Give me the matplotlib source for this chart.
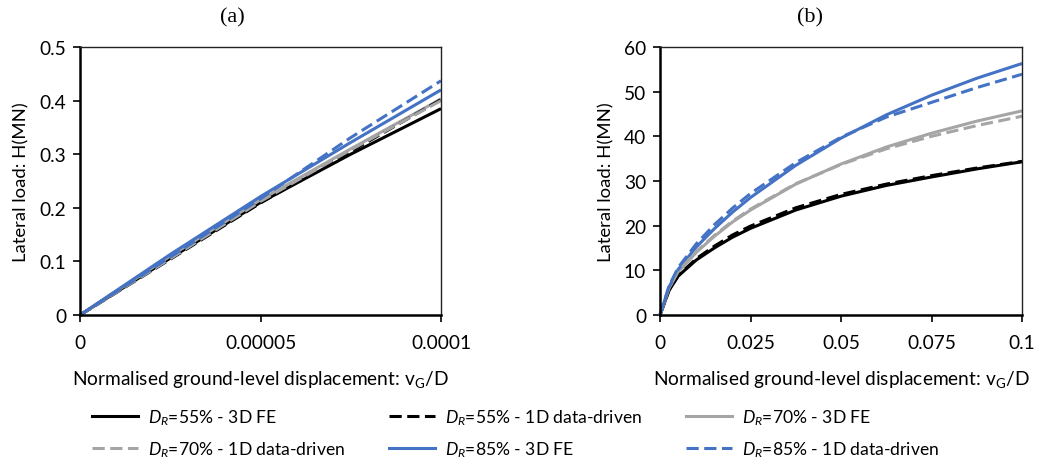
import matplotlib
matplotlib.use("Agg")
import matplotlib.pyplot as plt
from matplotlib.lines import Line2D

plt.rcParams['font.family'] = ['Lato', 'DejaVu Sans']
plt.rcParams['mathtext.fontset'] = 'custom'
plt.rcParams['mathtext.rm'] = 'Lato'
plt.rcParams['mathtext.it'] = 'Lato:italic'

# Panel (a): small-displacement range
xa = [0, 2.5e-5, 5e-5, 7.5e-5, 1e-4]
a_dr55_fe = [0, 0.106, 0.210, 0.300, 0.385]
a_dr55_dd = [0, 0.104, 0.209, 0.305, 0.402]
a_dr70_fe = [0, 0.110, 0.215, 0.310, 0.403]
a_dr70_dd = [0, 0.105, 0.212, 0.308, 0.400]
a_dr85_fe = [0, 0.113, 0.221, 0.322, 0.420]
a_dr85_dd = [0, 0.108, 0.217, 0.331, 0.437]

# Panel (b): full displacement range
xb = [0, 0.0025, 0.005, 0.01, 0.015, 0.02, 0.025, 0.0375, 0.05, 0.0625, 0.075, 0.0875, 0.1]
b_dr55_fe = [0, 5.5, 8.7, 12.3, 15.0, 17.4, 19.4, 23.5, 26.6, 29.0, 30.9, 32.7, 34.3]
b_dr55_dd = [0, 5.6, 8.8, 12.6, 15.4, 17.9, 19.9, 24.0, 27.0, 29.3, 31.2, 32.9, 34.4]
b_dr70_fe = [0, 6.0, 9.6, 14.0, 17.6, 20.8, 23.5, 29.3, 33.8, 37.6, 40.7, 43.4, 45.7]
b_dr70_dd = [0, 6.0, 9.7, 14.2, 17.8, 21.0, 23.7, 29.4, 33.7, 37.2, 40.0, 42.4, 44.5]
b_dr85_fe = [0, 6.3, 10.2, 15.2, 19.3, 23.0, 26.3, 33.5, 39.6, 44.8, 49.2, 53.0, 56.3]
b_dr85_dd = [0, 6.5, 10.6, 15.9, 20.2, 23.9, 27.2, 34.1, 39.8, 44.3, 47.6, 50.9, 53.9]

a_xticks = [0, 5e-5, 1e-4]
a_xticklabels = ["0", "0.00005", "0.0001"]
a_yticks = [0, 0.1, 0.2, 0.3, 0.4, 0.5]
a_yticklabels = ["0", "0.1", "0.2", "0.3", "0.4", "0.5"]
b_xticks = [0, 0.025, 0.05, 0.075, 0.1]
b_xticklabels = ["0", "0.025", "0.05", "0.075", "0.1"]
b_yticks = [0, 10, 20, 30, 40, 50, 60]
b_yticklabels = ["0", "10", "20", "30", "40", "50", "60"]

series_labels = [r"$D_R$=55% - 3D FE", r"$D_R$=55% - 1D data-driven",
                 r"$D_R$=70% - 3D FE", r"$D_R$=70% - 1D data-driven",
                 r"$D_R$=85% - 3D FE", r"$D_R$=85% - 1D data-driven"]

BLACK = "#000000"
GREY = "#A5A5A5"
BLUE = "#4472C4"
DASH = (0, (4.0, 1.8))
styles = [(BLACK, "-"), (BLACK, DASH), (GREY, "-"), (GREY, DASH),
          (BLUE, "-"), (BLUE, DASH)]

W, H = 1039, 460
fig = plt.figure(figsize=(W / 100, H / 100), dpi=100)
ax_a = fig.add_axes([80 / W, 1 - 316 / H, 361 / W, 268 / H])
ax_b = fig.add_axes([660 / W, 1 - 316 / H, 362 / W, 268 / H])

LW = 2.2

def style_axes(ax, xticks, xlabels, yticks, ylabels):
    ax.set_xticks(xticks)
    ax.set_xticklabels(xlabels)
    ax.set_yticks(yticks)
    ax.set_yticklabels(ylabels)
    ax.set_xlim(xticks[0], xticks[-1])
    ax.set_ylim(yticks[0], yticks[-1])
    for s in ("left", "bottom"):
        ax.spines[s].set_linewidth(1.8)
        ax.spines[s].set_color("black")
    for s in ("top", "right"):
        ax.spines[s].set_linewidth(1.0)
        ax.spines[s].set_color("#222222")
    ax.tick_params(axis="both", direction="out", length=5, width=1.2,
                   labelsize=13.8, colors="black")
    ax.tick_params(axis="x", pad=9)
    ax.tick_params(axis="y", pad=5)
    ax.set_xlabel(r"Normalised ground-level displacement: v$_\mathrm{G}$/D",
                  fontsize=13.8, labelpad=12)
    ax.set_ylabel("Lateral load: H(MN)", fontsize=13.3, labelpad=7)

a_series = [a_dr55_fe, a_dr55_dd, a_dr70_fe, a_dr70_dd, a_dr85_fe, a_dr85_dd]
b_series = [b_dr55_fe, b_dr55_dd, b_dr70_fe, b_dr70_dd, b_dr85_fe, b_dr85_dd]
order = [0, 2, 4, 1, 3, 5]
for i in order:
    c, ls = styles[i]
    ax_a.plot(xa, a_series[i], color=c, linestyle=ls, lw=LW, clip_on=False,
              solid_capstyle="butt", dash_capstyle="butt")
    ax_b.plot(xb, b_series[i], color=c, linestyle=ls, lw=LW, clip_on=False,
              solid_capstyle="butt", dash_capstyle="butt")

style_axes(ax_a, a_xticks, a_xticklabels, a_yticks, a_yticklabels)
style_axes(ax_b, b_xticks, b_xticklabels, b_yticks, b_yticklabels)

fig.text(232 / W, 1 - 18 / H, "(a)", family="Liberation Serif", fontsize=16,
         ha="center", va="center")
fig.text(810 / W, 1 - 18 / H, "(b)", family="Liberation Serif", fontsize=16,
         ha="center", va="center")

handles = [Line2D([], [], color=c, linestyle=ls, lw=LW) for c, ls in styles]
# legend laid out row-wise in three columns
leg_order = [0, 3, 1, 4, 2, 5]
fig.legend([handles[i] for i in leg_order], [series_labels[i] for i in leg_order],
           ncol=3, loc="upper left", bbox_to_anchor=(92 / W, 1 - 408 / H),
           borderaxespad=0, borderpad=0,
           frameon=False, fontsize=12.6, handlelength=2.63, handletextpad=0.57,
           columnspacing=2.5, labelspacing=0.7)

fig.savefig("out.png", dpi=100)
